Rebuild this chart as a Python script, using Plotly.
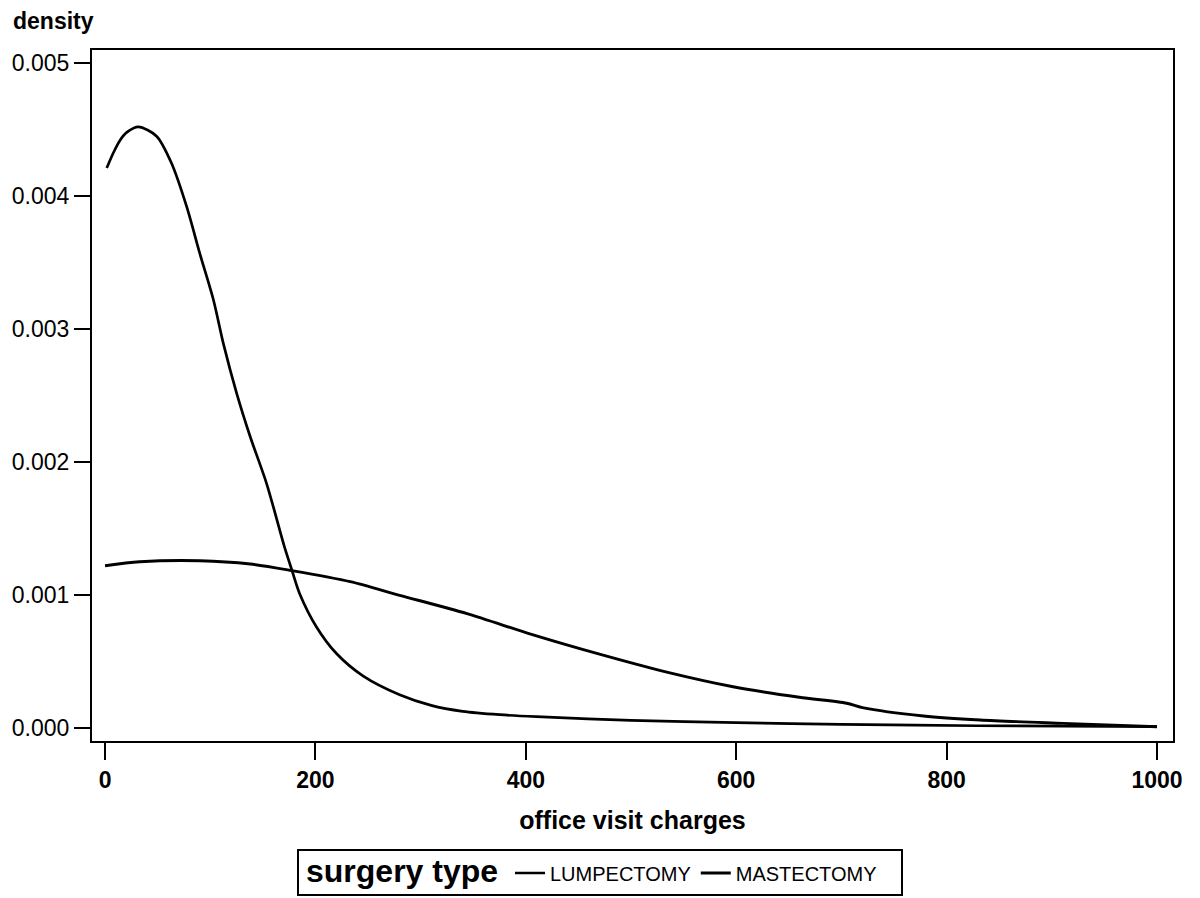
import plotly.graph_objects as go

# Kernel density estimates of office visit charges by surgery type
lump_x = [1.6, 7.6, 14.3, 20.9, 31.7, 49, 63, 77.6, 90, 103, 112.5, 125, 138, 153.5,
          171, 177.5, 185, 201, 220, 245.5, 280, 310, 340, 375, 410, 500, 600, 700,
          830, 1000]
lump_y = [0.00421, 0.00432, 0.00442, 0.00448, 0.00452, 0.00445, 0.00425, 0.00392,
          0.00357, 0.00322, 0.00289, 0.00252, 0.00219, 0.00184, 0.00135, 0.00119,
          0.00101, 0.00076, 0.00056, 0.00039, 0.00025, 0.00017, 0.000125, 0.0001,
          0.000085, 0.000058, 0.00004, 0.000028, 0.000017, 0.00001]

mast_x = [0, 33, 90, 138, 177.5, 233, 280, 344, 407, 470, 534, 597, 660, 705, 720,
          778, 832, 911, 1000]
mast_y = [0.00122, 0.00125, 0.001258, 0.001233, 0.001183, 0.0011, 0.000998, 0.00086,
          0.0007, 0.000555, 0.00042, 0.00031, 0.000231, 0.000186, 0.000153, 0.00009,
          0.00006, 0.000035, 0.00001]

x_ticks = [0, 200, 400, 600, 800, 1000]
y_ticks = [0.000, 0.001, 0.002, 0.003, 0.004, 0.005]

FONT = "Liberation Sans, Arial, sans-serif"

# plot area in pixels: x 92..1173, y 50..741
L, R, T, B = 92, 1173, 50, 741


def px(xp):
    return (xp - L) / (R - L)


def py(yp):
    return (B - yp) / (B - T)


fig = go.Figure()
fig.add_trace(go.Scatter(x=lump_x, y=lump_y, mode="lines", name="LUMPECTOMY",
                         line=dict(color="black", width=2.7, shape="spline", smoothing=0.8)))
fig.add_trace(go.Scatter(x=mast_x, y=mast_y, mode="lines", name="MASTECTOMY",
                         line=dict(color="black", width=2.9, shape="spline", smoothing=0.8)))

fig.update_layout(
    width=1200, height=898,
    margin=dict(l=L, r=1200 - R, t=T, b=898 - B, autoexpand=False),
    paper_bgcolor="white", plot_bgcolor="white",
    font=dict(family=FONT, color="black"),
    showlegend=True,
    legend=dict(
        orientation="h",
        x=px(510), xanchor="left", y=py(873), yanchor="middle",
        bgcolor="rgba(0,0,0,0)", borderwidth=0,
        font=dict(size=20, family=FONT),
        itemwidth=30,
    ),
    xaxis=dict(
        range=[-12.4, 1015.2],
        tickvals=x_ticks, ticktext=[f"<b>{v}</b>" for v in x_ticks],
        ticks="outside", ticklen=17, tickwidth=2, tickcolor="black",
        tickfont=dict(size=23, family=FONT),
        showline=True, linecolor="black", linewidth=2, mirror=True,
        showgrid=False, zeroline=False,
        title=dict(text="<b>office visit charges</b>", font=dict(size=25, family=FONT),
                   standoff=20),
    ),
    yaxis=dict(
        range=[-0.0000977, 0.005098],
        tickvals=y_ticks, tickformat=".3f",
        ticks="outside", ticklen=16, tickwidth=2, tickcolor="black",
        tickfont=dict(size=23, family=FONT),
        showline=True, linecolor="black", linewidth=2, mirror=True,
        showgrid=False, zeroline=False,
    ),
)

# legend frame and its heading
fig.add_shape(type="rect", xref="paper", yref="paper",
              x0=px(298), x1=px(902), y0=py(850), y1=py(895),
              line=dict(color="black", width=2), fillcolor="rgba(0,0,0,0)")
fig.add_annotation(
    text="<b>surgery type</b>", xref="paper", yref="paper",
    x=px(304), y=py(871), xanchor="left", yanchor="middle",
    showarrow=False, font=dict(size=32, family=FONT),
)

fig.add_annotation(
    text="<b>density</b>", xref="paper", yref="paper",
    x=px(11), y=py(21), xanchor="left", yanchor="middle",
    showarrow=False, font=dict(size=23, family=FONT),
)

fig.write_html("out.html")
